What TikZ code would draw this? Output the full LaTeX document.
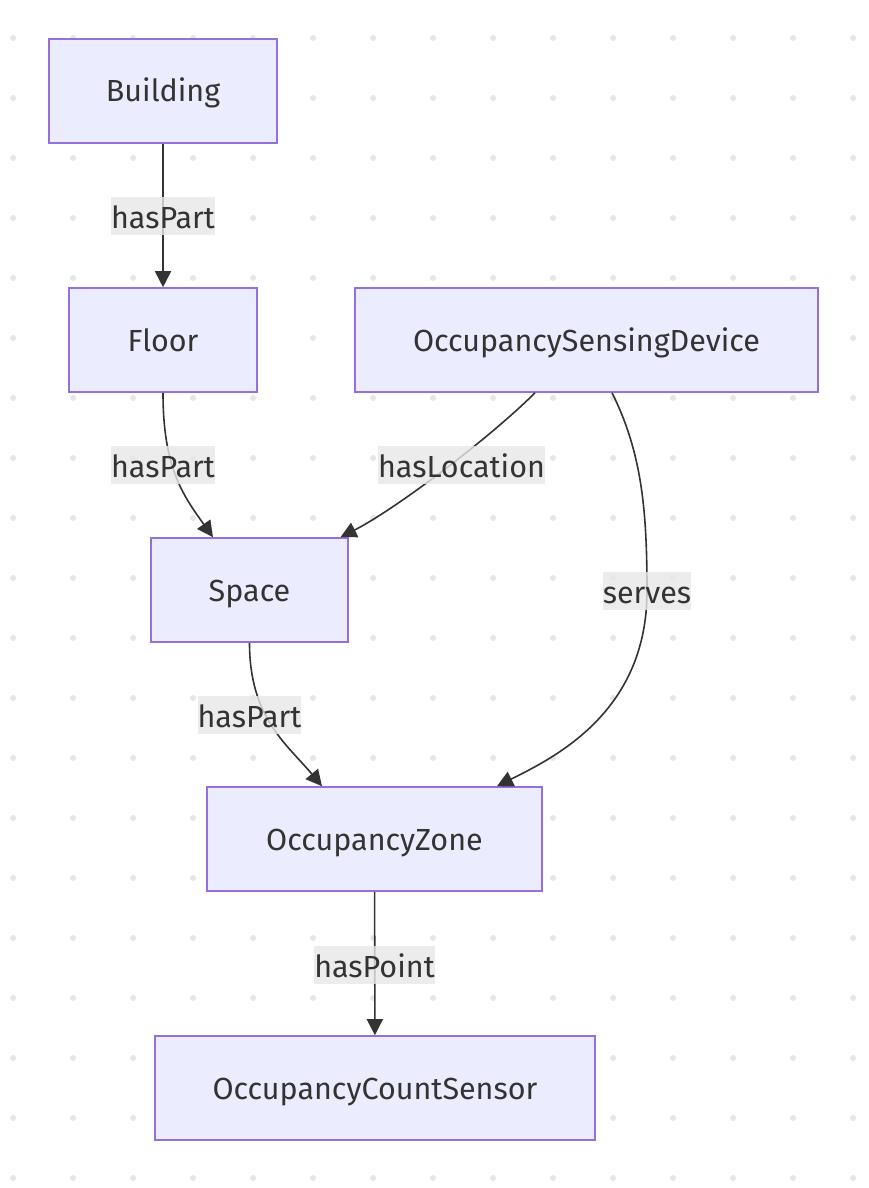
\documentclass[tikz,border=0pt]{standalone}
\usepackage{fontspec}
\setmainfont{Fira Sans}
\usetikzlibrary{arrows.meta}
\definecolor{boxfill}{HTML}{ECECFF}
\definecolor{boxline}{HTML}{9370DB}
\definecolor{edgeline}{HTML}{333333}
\definecolor{labelbg}{HTML}{E8E8E8}
\definecolor{dotcol}{HTML}{E6E6E6}
\begin{document}
\begin{tikzpicture}[
x=1pt,y=1pt,
every node/.style={font=\fontsize{30.5}{34}\selectfont,text=edgeline},
box/.style={draw=boxline,fill=boxfill,line width=1.6pt,minimum height=104pt,inner sep=0pt,text height=28pt,text depth=6pt},
edge/.style={draw=edgeline,line width=1.6pt,-{Triangle[length=16pt,width=16pt]}},
lbl/.style={fill=labelbg,fill opacity=0.8,text opacity=1,inner xsep=0pt,inner ysep=0pt,minimum height=38pt,text height=30pt,text depth=6pt}
]
\useasboundingbox (0,0) rectangle (868,-1188);
\fill[white] (0,0) rectangle (868,-1188);
\foreach \x in {13,73,...,853}
\foreach \y in {38,98,...,1178}
\fill[dotcol] (\x,-\y) circle (3pt);

\node[box,minimum width=228pt] (building) at (163,-91) {Building};
\node[box,minimum width=188pt] (floor) at (163,-340) {Floor};
\node[box,minimum width=463pt] (sensing) at (586.5,-340) {OccupancySensingDevice};
\node[box,minimum width=197pt] (space) at (249.5,-590) {Space};
\node[box,minimum width=335pt] (zone) at (374.5,-839) {OccupancyZone};
\node[box,minimum width=440pt] (count) at (375,-1088) {OccupancyCountSensor};

\coordinate (servesmid) at (647,-591);

\draw[edge] (building) -- (floor);
\draw[edge] (floor.south) .. controls +(0,-75) and +(-30,42) .. ([xshift=-36.5pt]space.north);
\draw[edge] ([xshift=-51.5pt]sensing.south) .. controls +(-45,-45) and +(55,28) .. ([xshift=91pt]space.north);
\draw[edge] (space.south) .. controls +(0,-75) and +(-35,42) .. ([xshift=-52.5pt]zone.north);
\draw[edge] ([xshift=25.5pt]sensing.south) .. controls +(30,-60) and +(0,80) .. (servesmid)
.. controls +(0,-120) and +(60,30) .. ([xshift=122.5pt]zone.north);
\draw[edge] (zone) -- (count);

\node[lbl] (lbl1) at (163,-216) {hasPart};
\node[lbl] (lbl2) at (163,-465) {hasPart};
\node[lbl] (lbl3) at (461.5,-465) {hasLocation};
\node[lbl] (lbl4) at (249.5,-715) {hasPart};
\node[lbl] (lbl5) at (servesmid) {serves};
\node[lbl] (lbl6) at (374.5,-965) {hasPoint};
\end{tikzpicture}
\end{document}
